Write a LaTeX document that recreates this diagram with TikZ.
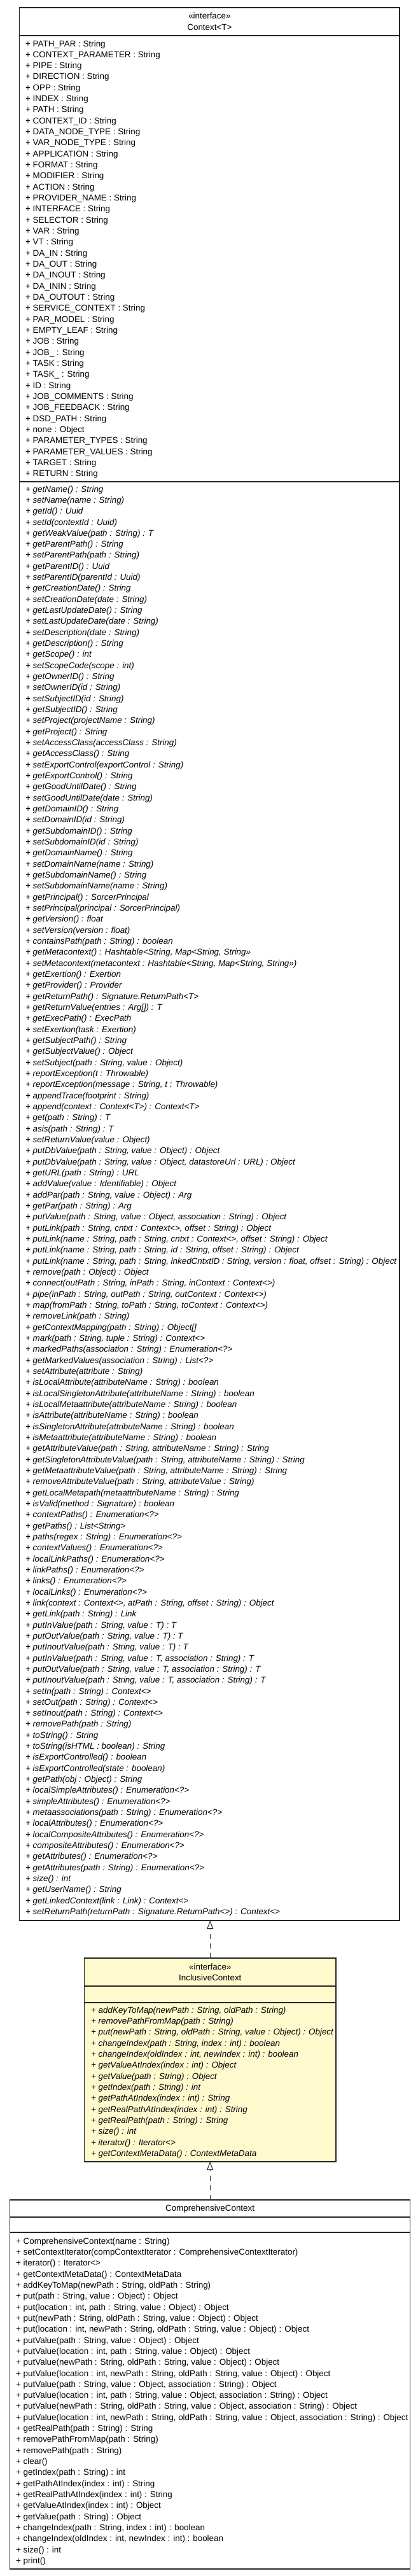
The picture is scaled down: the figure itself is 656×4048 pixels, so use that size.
\documentclass[tikz,border=0pt]{standalone}
\usepackage{fontspec}
\setmainfont{Liberation Sans}
\usetikzlibrary{arrows.meta}
\definecolor{ifacefill}{RGB}{255,250,205}

\begin{document}
\begin{tikzpicture}[x=1pt,y=-1pt,
  classbox/.style={draw=black!85,line width=1.4pt,anchor=north west,inner sep=0pt,outer sep=0pt},
  sepline/.style={draw=black!85,line width=1.6pt},
  member/.style={anchor=base west,inner sep=0pt,font=\fontsize{13.4}{16}\selectfont},
  abstract/.style={member,font=\fontsize{13.4}{16}\selectfont\itshape},
  classname/.style={anchor=base,inner sep=0pt,font=\fontsize{13.4}{16}\selectfont},
  realize/.style={draw=black!85,line width=1pt,dash pattern=on 8pt off 7pt,
    -{Triangle[open,length=13pt,width=10pt]}}]
  \def\pitch{17.33}
  \fill[white] (0,0) rectangle (656,4048);
  \useasboundingbox (0,0) rectangle (656,4048);

  % Boxes
  \node[classbox,minimum width=597.3,minimum height=3006] (context) at (30.7,12) {};
  \node[classbox,fill=ifacefill,minimum width=395.5,minimum height=320] (inclusive) at (132.5,3077) {};
  \node[classbox,minimum width=629,minimum height=580] (comprehensive) at (15.6,3457) {};

  % Compartment lines
  \draw[sepline] (30.7,55.7) -- (628,55.7);
  \draw[sepline] (30.7,757) -- (628,757);
  \draw[sepline] (132.5,3121) -- (528,3121);
  \draw[sepline] (132.5,3147) -- (528,3147);
  \draw[sepline] (15.6,3484) -- (644.6,3484);
  \draw[sepline] (15.6,3508) -- (644.6,3508);

  % Class names
  \node[classname] (contextstereo) at (329.4,29) {«interface»};
  \node[classname] (contextname) at (329.4,47.5) {Context<T>};
  \node[classname] (inclusivestereo) at (330.3,3095) {«interface»};
  \node[classname] (inclusivename) at (330.3,3112) {InclusiveContext};
  \node[classname] (comprehensivename) at (330.1,3474) {ComprehensiveContext};

  % ---- Context<T> ----
  \foreach \t [count=\i from 0] in {
    {PATH\_PAR : String},{CONTEXT\_PARAMETER : String},{PIPE : String},
    {DIRECTION : String},{OPP : String},{INDEX : String},{PATH : String},
    {CONTEXT\_ID : String},{DATA\_NODE\_TYPE : String},{VAR\_NODE\_TYPE : String},
    {APPLICATION : String},{FORMAT : String},{MODIFIER : String},{ACTION : String},
    {PROVIDER\_NAME : String},{INTERFACE : String},{SELECTOR : String},
    {VAR : String},{VT : String},{DA\_IN : String},{DA\_OUT : String},
    {DA\_INOUT : String},{DA\_ININ : String},{DA\_OUTOUT : String},
    {SERVICE\_CONTEXT : String},{PAR\_MODEL : String},{EMPTY\_LEAF : String},
    {JOB : String},{JOB\_ : String},{TASK : String},{TASK\_ : String},
    {ID : String},{JOB\_COMMENTS : String},{JOB\_FEEDBACK : String},
    {DSD\_PATH : String},{none : Object},{PARAMETER\_TYPES : String},
    {PARAMETER\_VALUES : String},{TARGET : String},{RETURN : String}}
    \node[member] (ctxattr\i) at (40,73+\i*\pitch) {+ \t};

  \foreach \t [count=\i from 0] in {
    {getName() : String},{setName(name : String)},{getId() : Uuid},
    {setId(contextId : Uuid)},{getWeakValue(path : String) : T},
    {getParentPath() : String},{setParentPath(path : String)},
    {getParentID() : Uuid},{setParentID(parentId : Uuid)},
    {getCreationDate() : String},{setCreationDate(date : String)},
    {getLastUpdateDate() : String},{setLastUpdateDate(date : String)},
    {setDescription(date : String)},{getDescription() : String},
    {getScope() : int},{setScopeCode(scope : int)},{getOwnerID() : String},
    {setOwnerID(id : String)},{setSubjectID(id : String)},{getSubjectID() : String},
    {setProject(projectName : String)},{getProject() : String},
    {setAccessClass(accessClass : String)},{getAccessClass() : String},
    {setExportControl(exportControl : String)},{getExportControl() : String},
    {getGoodUntilDate() : String},{setGoodUntilDate(date : String)},
    {getDomainID() : String},{setDomainID(id : String)},
    {getSubdomainID() : String},{setSubdomainID(id : String)},
    {getDomainName() : String},{setDomainName(name : String)},
    {getSubdomainName() : String},{setSubdomainName(name : String)},
    {getPrincipal() : SorcerPrincipal},{setPrincipal(principal : SorcerPrincipal)},
    {getVersion() : float},{setVersion(version : float)},
    {containsPath(path : String) : boolean},
    {getMetacontext() : Hashtable<String, Map<String, String>>},
    {setMetacontext(metacontext : Hashtable<String, Map<String, String>>)},
    {getExertion() : Exertion},{getProvider() : Provider},
    {getReturnPath() : Signature.ReturnPath<T>},
    {getReturnValue(entries : Arg[]) : T},{getExecPath() : ExecPath},
    {setExertion(task : Exertion)},{getSubjectPath() : String},
    {getSubjectValue() : Object},{setSubject(path : String, value : Object)},
    {reportException(t : Throwable)},
    {reportException(message : String, t : Throwable)},
    {appendTrace(footprint : String)},
    {append(context : Context<T>) : Context<T>},
    {get(path : String) : T},{asis(path : String) : T},
    {setReturnValue(value : Object)},
    {putDbValue(path : String, value : Object) : Object},
    {putDbValue(path : String, value : Object, datastoreUrl : URL) : Object},
    {getURL(path : String) : URL},{addValue(value : Identifiable) : Object},
    {addPar(path : String, value : Object) : Arg},{getPar(path : String) : Arg},
    {putValue(path : String, value : Object, association : String) : Object},
    {putLink(path : String, cntxt : Context<>, offset : String) : Object},
    {putLink(name : String, path : String, cntxt : Context<>, offset : String) : Object},
    {putLink(name : String, path : String, id : String, offset : String) : Object},
    {putLink(name : String, path : String, lnkedCntxtID : String, version : float, offset : String) : Object},
    {remove(path : Object) : Object},
    {connect(outPath : String, inPath : String, inContext : Context<>)},
    {pipe(inPath : String, outPath : String, outContext : Context<>)},
    {map(fromPath : String, toPath : String, toContext : Context<>)},
    {removeLink(path : String)},{getContextMapping(path : String) : Object[]},
    {mark(path : String, tuple : String) : Context<>},
    {markedPaths(association : String) : Enumeration<?>},
    {getMarkedValues(association : String) : List<?>},
    {setAttribute(attribute : String)},
    {isLocalAttribute(attributeName : String) : boolean},
    {isLocalSingletonAttribute(attributeName : String) : boolean},
    {isLocalMetaattribute(attributeName : String) : boolean},
    {isAttribute(attributeName : String) : boolean},
    {isSingletonAttribute(attributeName : String) : boolean},
    {isMetaattribute(attributeName : String) : boolean},
    {getAttributeValue(path : String, attributeName : String) : String},
    {getSingletonAttributeValue(path : String, attributeName : String) : String},
    {getMetaattributeValue(path : String, attributeName : String) : String},
    {removeAttributeValue(path : String, attributeValue : String)},
    {getLocalMetapath(metaattributeName : String) : String},
    {isValid(method : Signature) : boolean},{contextPaths() : Enumeration<?>},
    {getPaths() : List<String>},{paths(regex : String) : Enumeration<?>},
    {contextValues() : Enumeration<?>},{localLinkPaths() : Enumeration<?>},
    {linkPaths() : Enumeration<?>},{links() : Enumeration<?>},
    {localLinks() : Enumeration<?>},
    {link(context : Context<>, atPath : String, offset : String) : Object},
    {getLink(path : String) : Link},
    {putInValue(path : String, value : T) : T},
    {putOutValue(path : String, value : T) : T},
    {putInoutValue(path : String, value : T) : T},
    {putInValue(path : String, value : T, association : String) : T},
    {putOutValue(path : String, value : T, association : String) : T},
    {putInoutValue(path : String, value : T, association : String) : T},
    {setIn(path : String) : Context<>},{setOut(path : String) : Context<>},
    {setInout(path : String) : Context<>},{removePath(path : String)},
    {toString() : String},{toString(isHTML : boolean) : String},
    {isExportControlled() : boolean},{isExportControlled(state : boolean)},
    {getPath(obj : Object) : String},{localSimpleAttributes() : Enumeration<?>},
    {simpleAttributes() : Enumeration<?>},
    {metaassociations(path : String) : Enumeration<?>},
    {localAttributes() : Enumeration<?>},
    {localCompositeAttributes() : Enumeration<?>},
    {compositeAttributes() : Enumeration<?>},{getAttributes() : Enumeration<?>},
    {getAttributes(path : String) : Enumeration<?>},{size() : int},
    {getUserName() : String},{getLinkedContext(link : Link) : Context<>},
    {setReturnPath(returnPath : Signature.ReturnPath<>) : Context<>}}
    \node[abstract] (ctxop\i) at (40,773+\i*\pitch) {+ \t};

  % ---- InclusiveContext ----
  \foreach \t [count=\i from 0] in {
    {addKeyToMap(newPath : String, oldPath : String)},
    {removePathFromMap(path : String)},
    {put(newPath : String, oldPath : String, value : Object) : Object},
    {changeIndex(path : String, index : int) : boolean},
    {changeIndex(oldIndex : int, newIndex : int) : boolean},
    {getValueAtIndex(index : int) : Object},{getValue(path : String) : Object},
    {getIndex(path : String) : int},{getPathAtIndex(index : int) : String},
    {getRealPathAtIndex(index : int) : String},
    {getRealPath(path : String) : String},{size() : int},
    {iterator() : Iterator<>},{getContextMetaData() : ContextMetaData}}
    \node[abstract] (incop\i) at (143,3163+\i*\pitch) {+ \t};

  % ---- ComprehensiveContext ----
  \foreach \t [count=\i from 0] in {
    {ComprehensiveContext(name : String)},
    {setContextIterator(compContextIterator : ComprehensiveContextIterator)},
    {iterator() : Iterator<>},{getContextMetaData() : ContextMetaData},
    {addKeyToMap(newPath : String, oldPath : String)},
    {put(path : String, value : Object) : Object},
    {put(location : int, path : String, value : Object) : Object},
    {put(newPath : String, oldPath : String, value : Object) : Object},
    {put(location : int, newPath : String, oldPath : String, value : Object) : Object},
    {putValue(path : String, value : Object) : Object},
    {putValue(location : int, path : String, value : Object) : Object},
    {putValue(newPath : String, oldPath : String, value : Object) : Object},
    {putValue(location : int, newPath : String, oldPath : String, value : Object) : Object},
    {putValue(path : String, value : Object, association : String) : Object},
    {putValue(location : int, path : String, value : Object, association : String) : Object},
    {putValue(newPath : String, oldPath : String, value : Object, association : String) : Object},
    {putValue(location : int, newPath : String, oldPath : String, value : Object, association : String) : Object},
    {getRealPath(path : String) : String},{removePathFromMap(path : String)},
    {removePath(path : String)},{clear()},{getIndex(path : String) : int},
    {getPathAtIndex(index : int) : String},
    {getRealPathAtIndex(index : int) : String},
    {getValueAtIndex(index : int) : Object},{getValue(path : String) : Object},
    {changeIndex(path : String, index : int) : boolean},
    {changeIndex(oldIndex : int, newIndex : int) : boolean},
    {size() : int},{print()}}
    \node[member] (compop\i) at (25,3526+\i*\pitch) {+ \t};

  % Realizations
  \draw[realize] (inclusive.north) -- (inclusive.north |- context.south);
  \draw[realize] (comprehensive.north) -- (comprehensive.north |- inclusive.south);
\end{tikzpicture}
\end{document}
